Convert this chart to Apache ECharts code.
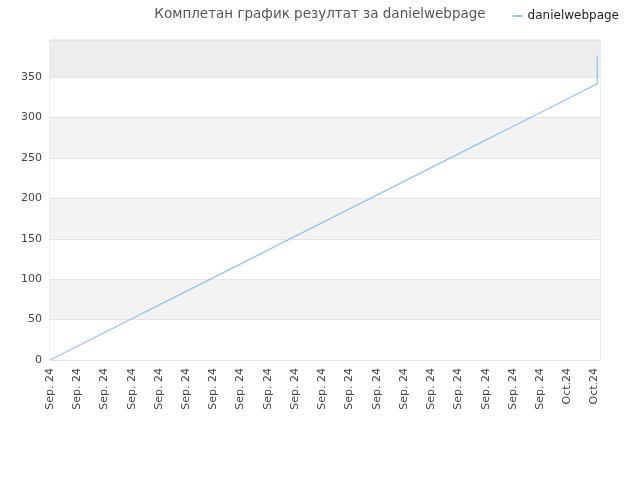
<!DOCTYPE html>
<html>
<head>
<meta charset="utf-8">
<script src="https://cdn.jsdelivr.net/npm/echarts@6/dist/echarts.min.js"></script>
<style>html,body{margin:0;padding:0;background:#fff}#chart{width:640px;height:480px}</style>
</head>
<body>
<div id="chart"></div>
<script>
// tick labels along the bottom
var dateLabels = ['Sep. 24','Sep. 24','Sep. 24','Sep. 24','Sep. 24','Sep. 24','Sep. 24','Sep. 24','Sep. 24','Sep. 24',
  'Sep. 24','Sep. 24','Sep. 24','Sep. 24','Sep. 24','Sep. 24','Sep. 24','Sep. 24','Sep. 24','Oct.24','Oct.24'];
// position of each reading (label index) and the value
var steps = [0,1,2,3,4,5,6,7,8,9,10,11,12,13,14,15,16,17,18,19,20.1,20.1];
var results = [0,17,34,51,68,85,102,119,136,153,170,187,204,221,238,255,272,289,306,323,342,377];

(function () {
var myChart = echarts.init(document.getElementById('chart'));
var points = steps.map(function (s, i) { return [s, results[i]]; });

var option = {
  animation: false,
  title: {
    text: 'Комплетан график резултат за danielwebpage',
    left: 'center',
    top: 2,
    textStyle: { color: '#555', fontSize: 13.5, fontWeight: 'normal', fontFamily: 'DejaVu Sans' }
  },
  legend: {
    right: 16,
    top: 5,
    itemWidth: 10,
    itemHeight: 2,
    itemGap: 6,
    icon: 'rect',
    textStyle: { color: '#222', fontSize: 12, fontFamily: 'DejaVu Sans' },
    data: ['danielwebpage']
  },
  grid: { left: 50, right: 40, top: 40, bottom: 120, show: true, borderColor: '#ddd', borderWidth: 1 },
  xAxis: {
    type: 'value',
    min: 0,
    max: 20.2,
    interval: 1,
    axisLine: { show: false },
    axisTick: { show: false },
    splitLine: { show: false },
    axisLabel: {
      rotate: 90,
      color: '#444',
      fontSize: 11,
      fontFamily: 'DejaVu Sans',
      margin: 8,
      showMaxLabel: false,
      formatter: function (v) { return dateLabels[v] || ''; }
    }
  },
  yAxis: {
    type: 'value',
    min: 0,
    max: 396,
    interval: 50,
    axisLine: { show: false },
    axisTick: { show: false },
    axisLabel: {
      color: '#444', fontSize: 11, fontFamily: 'DejaVu Sans',
      showMaxLabel: false
    },
    splitLine: { lineStyle: { color: '#e3e3e3' } },
    splitArea: { show: true, areaStyle: { color: ['#fff','#f3f3f3','#fff','#f3f3f3','#fff','#f3f3f3','#fff','#ededed'] } }
  },
  series: [{
    name: 'danielwebpage',
    type: 'line',
    data: points,
    showSymbol: false,
    lineStyle: { color: '#90c4f8', width: 1.3 },
    itemStyle: { color: '#90c4f8' }
  }]
};
myChart.setOption(option);
window.addEventListener('resize', function () { myChart.resize(); });
})();
</script>
</body>
</html>
